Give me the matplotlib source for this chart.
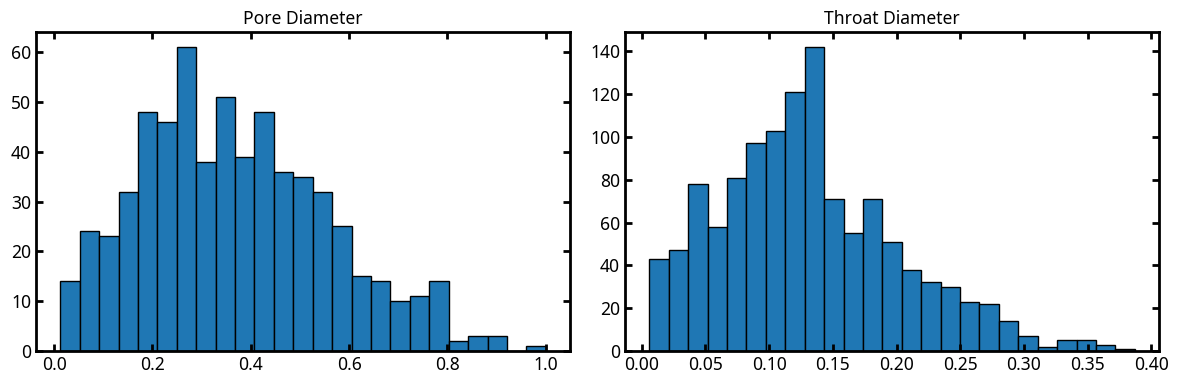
import numpy as np
import matplotlib
matplotlib.use('Agg')
import matplotlib.pyplot as plt

plt.rcParams['font.family'] = ['Noto Sans', 'DejaVu Sans']

# ---------- DATA ----------
pore_range = (0.0125, 1.0)
pore_counts = [14, 24, 23, 32, 48, 46, 61, 38, 51, 39, 48, 36, 35,
               32, 25, 15, 14, 10, 11, 14, 2, 3, 3, 0, 1]

throat_range = (0.006, 0.387)
throat_counts = [43, 47, 78, 58, 81, 97, 103, 121, 142, 71, 55, 71, 51,
                 38, 32, 30, 23, 22, 14, 7, 2, 5, 5, 3, 1]

titles = ['Pore Diameter', 'Throat Diameter']

# ---------- PLOT ----------
fig, axes = plt.subplots(1, 2, figsize=(11.84, 3.84), dpi=100)

for ax, (lo, hi), counts, title in zip(axes,
                                       [pore_range, throat_range],
                                       [pore_counts, throat_counts],
                                       titles):
    edges = np.linspace(lo, hi, len(counts) + 1)
    centers = (edges[:-1] + edges[1:]) / 2
    ax.hist(centers, bins=edges, weights=counts,
            color='#1f77b4', edgecolor='black', linewidth=1)
    ax.set_title(title, fontsize=12.6)
    ax.tick_params(direction='in', length=5, width=2, labelsize=12.6,
                   top=True, right=True)
    for s in ax.spines.values():
        s.set_linewidth(2)

plt.subplots_adjust(left=0.0304, right=0.979, top=0.917, bottom=0.086,
                    wspace=0.103)
plt.savefig('out.png')
